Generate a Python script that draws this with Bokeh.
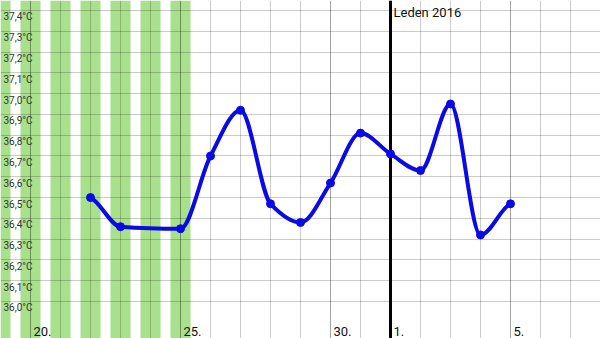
import numpy as np
from bokeh.plotting import figure
from bokeh.models import Grid, FixedTicker, Range1d
from bokeh.core.properties import value
from bokeh.embed import file_html
from bokeh.resources import INLINE

# ---- data (day index: Dec 19 = 19 ... Jan 1 = 32) ----
days = [22, 23, 25, 26, 27, 28, 29, 30, 31, 32, 33, 34, 35, 36]
temps = [36.50, 36.36, 36.35, 36.70, 36.92, 36.47, 36.38, 36.57, 36.81, 36.71, 36.63, 36.95, 36.32, 36.47]
period_days = [19, 20, 21, 22, 23, 24, 25]
grid_days = list(range(19, 40))
major_days = [20, 25, 30, 36]
month_start_day = 32
x_label_days = [20, 25, 30, 32, 36]
x_labels = ["20.", "25.", "30.", "1.", "5."]
y_ticks = [36.0, 36.1, 36.2, 36.3, 36.4, 36.5, 36.6, 36.7, 36.8, 36.9, 37.0, 37.1, 37.2, 37.3, 37.4]
y_labels = ["36,0°C", "36,1°C", "36,2°C", "36,3°C", "36,4°C", "36,5°C", "36,6°C", "36,7°C",
            "36,8°C", "36,9°C", "37,0°C", "37,1°C", "37,2°C", "37,3°C", "37,4°C"]
month_label = "Leden 2016"

X0, X1 = 19, 39
Y0, Y1 = 35.822, 37.448
BLUE = "#0a0ae6"
GREEN = "#a8e08c"
FONT = value("Roboto")

p = figure(width=600, height=338, x_range=Range1d(X0, X1), y_range=Range1d(Y0, Y1),
           x_axis_type=None, y_axis_type=None, toolbar_location=None,
           output_backend="svg", min_border=0, outline_line_color=None)
p.background_fill_color = "white"
p.border_fill_color = "white"

# green period bars
n = len(period_days)
p.vbar(x=period_days, width=0.667, bottom=[Y0] * n, top=[Y1] * n,
       fill_color=GREEN, line_color=None, level="image")

# grids
p.add_layout(Grid(dimension=0, ticker=FixedTicker(ticks=grid_days),
                  grid_line_color="black", grid_line_alpha=0.2), "center")
p.add_layout(Grid(dimension=0, ticker=FixedTicker(ticks=major_days),
                  grid_line_color="black", grid_line_alpha=0.2), "center")
p.add_layout(Grid(dimension=1, ticker=FixedTicker(ticks=y_ticks),
                  grid_line_color="black", grid_line_alpha=0.2), "center")

# month boundary line
p.segment(x0=[month_start_day], x1=[month_start_day], y0=[Y0], y1=[Y1],
          line_color="black", line_width=3)

# smooth curve (monotone cubic, soft end tangents) drawn as bezier segments
x = np.array(days, dtype=float)
y = np.array(temps, dtype=float)
h = np.diff(x)
d = np.diff(y) / h
m = np.zeros_like(y)
for k in range(1, len(y) - 1):
    if d[k - 1] * d[k] > 0:
        w1 = 2 * h[k] + h[k - 1]
        w2 = h[k] + 2 * h[k - 1]
        m[k] = (w1 + w2) / (w1 / d[k - 1] + w2 / d[k])
m[0] = d[0] * 0.45
m[-1] = d[-1] * 0.4
p.bezier(x0=x[:-1], y0=y[:-1], x1=x[1:], y1=y[1:],
         cx0=x[:-1] + h / 3, cy0=y[:-1] + m[:-1] * h / 3,
         cx1=x[1:] - h / 3, cy1=y[1:] - m[1:] * h / 3,
         line_color=BLUE, line_width=4)
p.scatter(x=days, y=temps, size=8, fill_color=BLUE, line_color=BLUE)

# y labels
p.text(x=[X0] * len(y_ticks), y=y_ticks, text=y_labels, x_offset=3, y_offset=1,
       text_baseline="top", text_align="left", text_font_size="10px",
       text_color="#333333", text_font=FONT)

# x labels
p.text(x=x_label_days, y=[Y0] * len(x_label_days), text=x_labels, x_offset=3, y_offset=-7,
       text_baseline="alphabetic", text_align="left", text_font_size="13px",
       text_color="#111111", text_font=FONT)

# month label
p.text(x=[month_start_day], y=[Y1], text=[month_label], x_offset=3, y_offset=4,
       text_baseline="top", text_align="left", text_font_size="13px",
       text_color="#111111", text_font=FONT)

open("out.html", "w").write(file_html(p, INLINE))
